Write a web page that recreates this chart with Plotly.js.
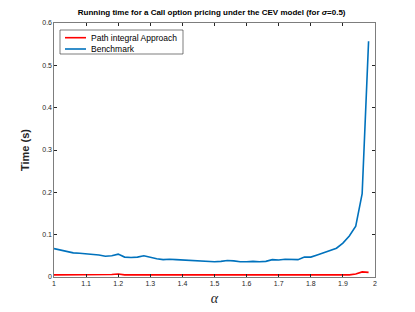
<!DOCTYPE html>
<html><head><meta charset="utf-8">
<script src="https://cdn.plot.ly/plotly-3.0.1.min.js"></script>
<style>html,body{margin:0;padding:0;background:#fff}#c{width:415px;height:312px}</style>
</head><body><div id="c"></div>
<script>
const alpha = [1.00,1.02,1.04,1.06,1.08,1.10,1.12,1.14,1.16,1.18,1.20,1.22,1.24,1.26,1.28,1.30,1.32,1.34,1.36,1.38,1.40,1.42,1.44,1.46,1.48,1.50,1.52,1.54,1.56,1.58,1.60,1.62,1.64,1.66,1.68,1.70,1.72,1.74,1.76,1.78,1.80,1.82,1.84,1.86,1.88,1.90,1.92,1.94,1.96,1.98];
const benchmark = [0.067,0.064,0.060,0.057,0.056,0.055,0.054,0.052,0.049,0.050,0.054,0.047,0.046,0.047,0.050,0.046,0.043,0.041,0.042,0.041,0.040,0.039,0.039,0.037,0.036,0.036,0.037,0.039,0.038,0.036,0.036,0.037,0.036,0.037,0.041,0.040,0.042,0.041,0.041,0.047,0.047,0.052,0.057,0.062,0.068,0.080,0.097,0.120,0.197,0.557];
const pathIntegral = [0.005,0.005,0.005,0.005,0.006,0.005,0.005,0.005,0.005,0.006,0.007,0.005,0.005,0.005,0.005,0.005,0.005,0.005,0.005,0.005,0.005,0.005,0.006,0.005,0.005,0.005,0.005,0.005,0.005,0.006,0.005,0.005,0.005,0.005,0.005,0.005,0.005,0.005,0.005,0.005,0.005,0.005,0.006,0.006,0.005,0.005,0.005,0.007,0.012,0.011];
const seriesNames = ['Path integral Approach', 'Benchmark'];
const seriesColors = ['#ff0000', '#0072bd'];
const xTicks = [1,1.1,1.2,1.3,1.4,1.5,1.6,1.7,1.8,1.9,2];
const yTicks = [0,0.1,0.2,0.3,0.4,0.5,0.6];

const axisCommon = {
  showgrid:false, zeroline:false, showline:true, mirror:'ticks',
  linecolor:'#262626', linewidth:0.6, ticks:'inside', ticklen:3, tickcolor:'#262626',
  tickfont:{family:'Liberation Sans, Arial', size:7, color:'#262626'}
};
const data = [
  {x:alpha, y:pathIntegral, type:'scatter', mode:'lines', name:seriesNames[0], line:{color:seriesColors[0], width:1.6}},
  {x:alpha, y:benchmark, type:'scatter', mode:'lines', name:seriesNames[1], line:{color:seriesColors[1], width:1.6}}
];

// compact MATLAB-style legend built in paper coordinates
const W = 321, H = 254;
const px = v => (v - 54) / W;
const py = v => (277 - v) / H;
const shapes = [
  {type:'rect', xref:'paper', yref:'paper', x0:px(60), x1:px(183), y0:py(54), y1:py(30), line:{color:'#262626', width:0.6}, fillcolor:'#fff', layer:'above'}
];
const annotations = [];
const rowY = [37.7, 49];
seriesNames.forEach((n, i) => {
  shapes.push({type:'line', xref:'paper', yref:'paper', x0:px(65), x1:px(86), y0:py(rowY[i]), y1:py(rowY[i]), line:{color:seriesColors[i], width:1.6}, layer:'above'});
  annotations.push({xref:'paper', yref:'paper', x:px(88.5), y:py(rowY[i]), xanchor:'left', yanchor:'middle', showarrow:false, text:n,
    font:{family:'Liberation Sans, Arial', size:8.5, color:'#000'}});
});

const layout = {
  width:415, height:312,
  margin:{l:54, r:40, t:23, b:35},
  paper_bgcolor:'#fff', plot_bgcolor:'#fff',
  showlegend:false,
  shapes:shapes, annotations:annotations,
  title:{text:'<b>Running time for a Call option pricing under the CEV model (for <i>σ</i>=0.5)</b>', font:{family:'Liberation Sans, Arial', size:8, color:'#000'}, x:0.51, xanchor:'center', y:0.962, yanchor:'middle'},
  xaxis:Object.assign({}, axisCommon, {range:[1,2], tickvals:xTicks, ticktext:xTicks.map(String),
    title:{text:'<i>α</i>', font:{family:'Liberation Serif, Times New Roman', size:14, color:'#262626'}, standoff:6}}),
  yaxis:Object.assign({}, axisCommon, {range:[0,0.6], tickvals:yTicks, ticktext:yTicks.map(String),
    title:{text:'<b>Time (s)</b>', font:{family:'Liberation Sans, Arial', size:11, color:'#262626'}, standoff:10}})
};
Plotly.newPlot('c', data, layout, {displayModeBar:false, staticPlot:true});
</script></body></html>
